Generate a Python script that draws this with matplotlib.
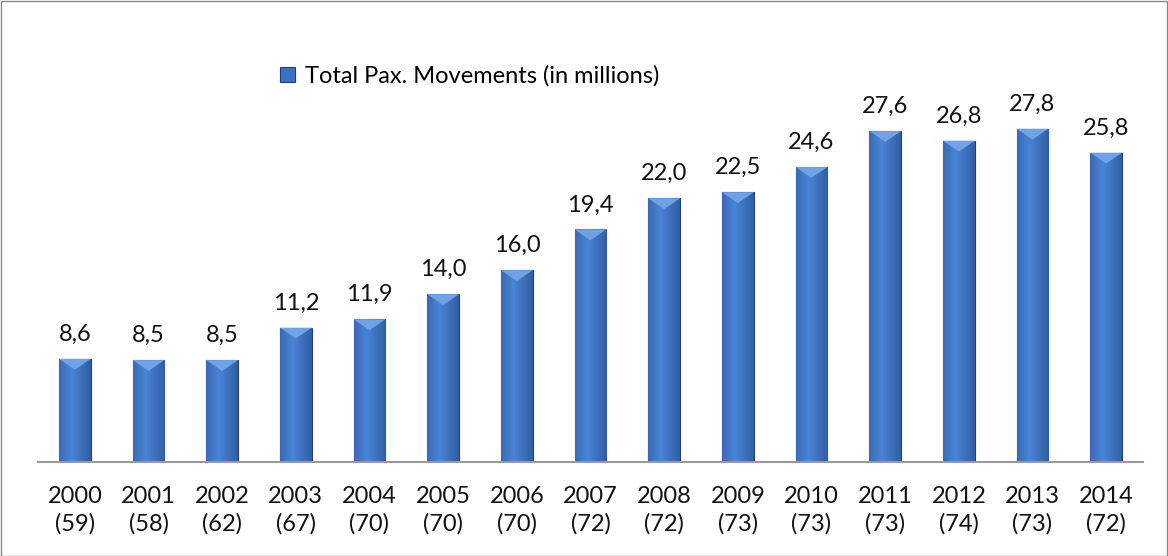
import matplotlib
matplotlib.use('Agg')
import matplotlib.pyplot as plt
import numpy as np
from matplotlib.patches import Rectangle

plt.rcParams['font.family'] = ['Lato', 'DejaVu Sans']

# Data
years = ['2000', '2001', '2002', '2003', '2004', '2005', '2006', '2007',
         '2008', '2009', '2010', '2011', '2012', '2013', '2014']
airports = [59, 58, 62, 67, 70, 70, 70, 72, 72, 73, 73, 73, 74, 73, 72]
pax = [8.6, 8.5, 8.5, 11.2, 11.9, 14.0, 16.0, 19.4, 22.0, 22.5, 24.6, 27.6, 26.8, 27.8, 25.8]

fig = plt.figure(figsize=(11.68, 5.56), dpi=100)
ax = fig.add_axes([38 / 1168, 94 / 556, 1105 / 1168, 362 / 556])

x = np.arange(len(years))
bars = ax.bar(x, pax, width=0.43, color='#3b6fbf', edgecolor='#1f3f75',
              linewidth=0.8, label='Total Pax. Movements (in millions)', zorder=2)

# horizontal gradient inside each bar
grad = np.linspace(0, 1, 64)
shade = 1 - 0.55 * np.abs(grad - 0.4) / 0.6
shade = shade.reshape(1, -1)
cmap = matplotlib.colors.LinearSegmentedColormap.from_list('b', ['#1d3f7a', '#4a84d6'])
for b in bars:
    bx, bw, bh = b.get_x(), b.get_width(), b.get_height()
    im = ax.imshow(shade, cmap=cmap, aspect='auto', extent=(bx, bx + bw, 0, bh),
                   vmin=0, vmax=1, zorder=2.5)
    im.set_clip_path(b)
    # small bevel triangle at top
    ax.fill([bx, bx + bw, bx + bw / 2], [bh, bh, bh - 0.9], color='#6fa2e6',
            zorder=3, lw=0)

ax.set_xlim(-0.5, len(years) - 0.5)
ax.set_ylim(0, 30.2)

for xi, v in zip(x, pax):
    ax.annotate(f'{v:.1f}'.replace('.', ','), (xi, v), xytext=(0, 13),
                textcoords='offset points', ha='center', va='baseline',
                fontsize=17, color='#111111')

ax.set_xticks(x)
ax.set_xticklabels([f'{y}\n({a})' for y, a in zip(years, airports)], fontsize=17,
                   color='#111111', linespacing=1.35)
ax.tick_params(axis='x', length=0, pad=17)
ax.set_yticks([])
for s in ['top', 'right', 'left']:
    ax.spines[s].set_visible(False)
ax.spines['bottom'].set_color('#999999')
ax.spines['bottom'].set_linewidth(1.5)

leg = ax.legend(loc='center left', bbox_to_anchor=(242 / 1105, 1.066), frameon=False,
                fontsize=17, handlelength=0.64, handleheight=0.64, handletextpad=0.42,
                borderaxespad=0, borderpad=0)

fig.patches.append(Rectangle((0.5 / 1168, 0.5 / 556), 1 - 1.5 / 1168, 1 - 1.5 / 556,
                             transform=fig.transFigure, fill=False,
                             edgecolor='#888888', linewidth=1))

fig.savefig('out.png', dpi=100)
